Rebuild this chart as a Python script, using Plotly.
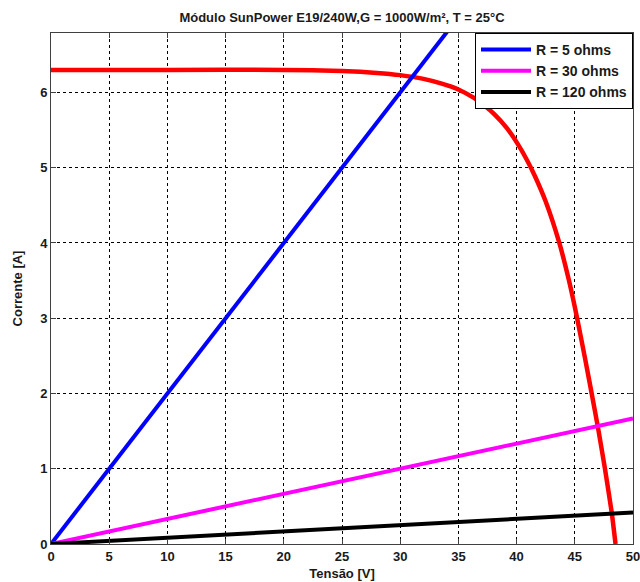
import plotly.graph_objects as go

# Red I-V curve of the module
v_module = [0, 10, 20, 25, 28, 30, 32, 33.5, 35, 36.3, 37.2, 38.1, 39.15, 40,
            40.9, 41.6, 42.5, 43.67, 44.5, 45.2, 45.9, 46.45, 47.0, 47.6, 48.17, 48.5]
i_module = [6.30, 6.30, 6.30, 6.285, 6.26, 6.23, 6.18, 6.12, 6.04, 5.93, 5.83,
            5.71, 5.53, 5.34, 5.10, 4.88, 4.55, 4.00, 3.50, 3.00, 2.45, 2.00,
            1.54, 0.99, 0.42, 0.0]

# Load lines (endpoints)
v_load = [0, 50]
i_r5 = [0, 10.0]
i_r30 = [0, 1.667]
i_r120 = [0, 0.417]

x_ticks = [0, 5, 10, 15, 20, 25, 30, 35, 40, 45, 50]
y_ticks = [0, 1, 2, 3, 4, 5, 6]

FONT = "Liberation Sans"

fig = go.Figure()
fig.add_trace(go.Scatter(x=v_module, y=i_module, mode="lines",
                         line=dict(color="#ff0000", width=4.5, shape="spline", smoothing=0.5),
                         showlegend=False))
fig.add_trace(go.Scatter(x=v_load, y=i_r5, mode="lines", name="<b>R = 5 ohms</b>",
                         line=dict(color="#0000ff", width=4)))
fig.add_trace(go.Scatter(x=v_load, y=i_r30, mode="lines", name="<b>R = 30 ohms</b>",
                         line=dict(color="#ff00ff", width=4)))
fig.add_trace(go.Scatter(x=v_load, y=i_r120, mode="lines", name="<b>R = 120 ohms</b>",
                         line=dict(color="#000000", width=4)))

axis_common = dict(
    showline=True, linecolor="#404040", linewidth=1, mirror="allticks",
    ticks="inside", ticklen=5, tickcolor="#404040",
    showgrid=True, gridcolor="#000000", gridwidth=1, griddash="3px,3px",
    zeroline=False, automargin=False, ticklabeloverflow="allow",
    tickfont=dict(family=FONT, size=13, color="#1a1a1a", weight="bold"),
)

fig.update_xaxes(range=[0, 50], tickvals=x_ticks, ticktext=[f"<b>{t}</b>" for t in x_ticks],
                 title=dict(text="<b>Tensão [V]</b>", standoff=6,
                            font=dict(family=FONT, size=13, color="#1a1a1a")),
                 **axis_common)
fig.update_yaxes(range=[0, 6.79], tickvals=y_ticks, ticktext=[f"<b>{t}</b>" for t in y_ticks],
                 title=dict(text="<b>Corrente [A]</b>", standoff=14,
                            font=dict(family=FONT, size=13, color="#1a1a1a")),
                 **axis_common)

fig.update_layout(
    width=640, height=582,
    margin=dict(l=51, r=7, t=33, b=38, autoexpand=False),
    paper_bgcolor="white", plot_bgcolor="white",
    font=dict(family=FONT, color="#1a1a1a"),
    title=dict(text="<b>Módulo SunPower E19/240W,G = 1000W/m², T = 25°C</b>",
               x=(51 + 633) / 2 / 640, xanchor="center", y=1 - 17 / 582, yanchor="middle",
               font=dict(family=FONT, size=13, color="#1a1a1a")),
    legend=dict(x=1, xanchor="right", y=1, yanchor="top",
                bgcolor="white", bordercolor="#000000", borderwidth=1,
                font=dict(family=FONT, size=14, color="#1a1a1a"),
                itemwidth=50, tracegroupgap=0),
)

fig.write_html("out.html")
